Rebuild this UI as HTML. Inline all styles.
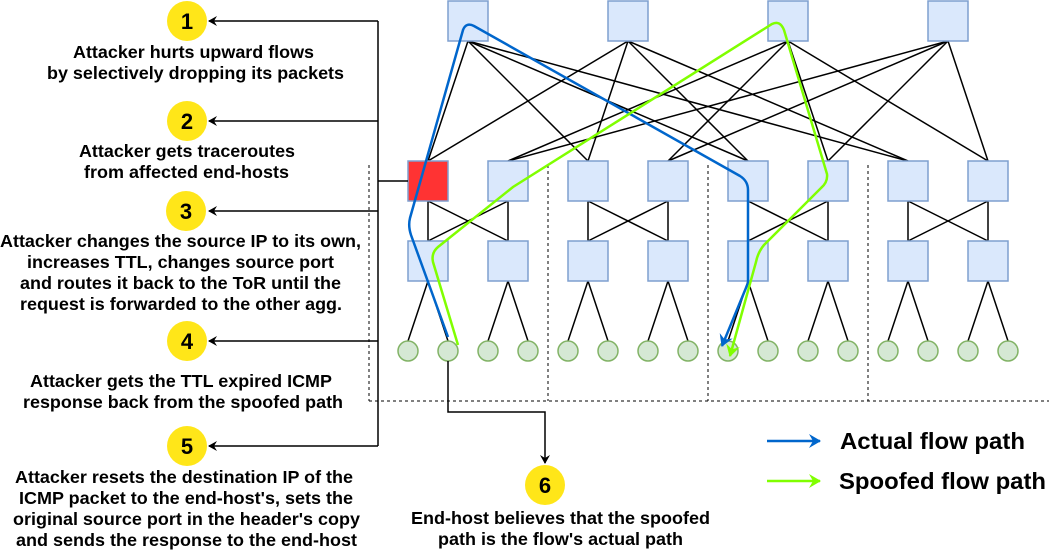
<!DOCTYPE html>
<html><head><meta charset="utf-8"><style>
html,body{margin:0;padding:0;background:#fff;}
svg{display:block;font-family:"Liberation Sans",sans-serif;font-weight:bold;}
</style></head><body>
<svg width="1049" height="550" viewBox="0 0 1049 550" xmlns="http://www.w3.org/2000/svg">
<defs>
<marker id="ak" markerWidth="10" markerHeight="10" refX="8" refY="5" orient="auto" markerUnits="userSpaceOnUse"><path d="M0,0 L9,5 L0,10 L3,5 Z" fill="#000"/></marker>
<marker id="ab" markerWidth="14" markerHeight="14" refX="11" refY="7" orient="auto" markerUnits="userSpaceOnUse"><path d="M0,0 L12,7 L0,14 L4,7 Z" fill="#0066cc"/></marker>
<marker id="ag" markerWidth="14" markerHeight="14" refX="11" refY="7" orient="auto" markerUnits="userSpaceOnUse"><path d="M0,0 L12,7 L0,14 L4,7 Z" fill="#80ff00"/></marker>
</defs>
<g stroke="#000" stroke-width="1" stroke-dasharray="3,3" fill="none">
<line x1="369" y1="165" x2="369" y2="401"/>
<line x1="548" y1="165" x2="548" y2="401"/>
<line x1="708" y1="165" x2="708" y2="401"/>
<line x1="868" y1="165" x2="868" y2="401"/>
<line x1="369" y1="401" x2="1049" y2="401"/>
</g>
<g stroke="#000" stroke-width="1.5">
<line x1="468" y1="41" x2="428" y2="161"/><line x1="468" y1="41" x2="588" y2="161"/><line x1="468" y1="41" x2="748" y2="161"/><line x1="468" y1="41" x2="908" y2="161"/>
<line x1="628" y1="41" x2="428" y2="161"/><line x1="628" y1="41" x2="588" y2="161"/><line x1="628" y1="41" x2="748" y2="161"/><line x1="628" y1="41" x2="908" y2="161"/>
<line x1="788" y1="41" x2="508" y2="161"/><line x1="788" y1="41" x2="668" y2="161"/><line x1="788" y1="41" x2="828" y2="161"/><line x1="788" y1="41" x2="988" y2="161"/>
<line x1="948" y1="41" x2="508" y2="161"/><line x1="948" y1="41" x2="668" y2="161"/><line x1="948" y1="41" x2="828" y2="161"/><line x1="948" y1="41" x2="988" y2="161"/>
</g>
<g stroke="#000" stroke-width="1.5">
<line x1="428" y1="201" x2="428" y2="241"/><line x1="508" y1="201" x2="508" y2="241"/><line x1="428" y1="201" x2="508" y2="241"/><line x1="508" y1="201" x2="428" y2="241"/>
<line x1="588" y1="201" x2="588" y2="241"/><line x1="668" y1="201" x2="668" y2="241"/><line x1="588" y1="201" x2="668" y2="241"/><line x1="668" y1="201" x2="588" y2="241"/>
<line x1="748" y1="201" x2="748" y2="241"/><line x1="828" y1="201" x2="828" y2="241"/><line x1="748" y1="201" x2="828" y2="241"/><line x1="828" y1="201" x2="748" y2="241"/>
<line x1="908" y1="201" x2="908" y2="241"/><line x1="988" y1="201" x2="988" y2="241"/><line x1="908" y1="201" x2="988" y2="241"/><line x1="988" y1="201" x2="908" y2="241"/>
<line x1="428" y1="281" x2="408" y2="341"/><line x1="428" y1="281" x2="448" y2="341"/>
<line x1="508" y1="281" x2="488" y2="341"/><line x1="508" y1="281" x2="528" y2="341"/>
<line x1="588" y1="281" x2="568" y2="341"/><line x1="588" y1="281" x2="608" y2="341"/>
<line x1="668" y1="281" x2="648" y2="341"/><line x1="668" y1="281" x2="688" y2="341"/>
<line x1="748" y1="281" x2="728" y2="341"/><line x1="748" y1="281" x2="768" y2="341"/>
<line x1="828" y1="281" x2="808" y2="341"/><line x1="828" y1="281" x2="848" y2="341"/>
<line x1="908" y1="281" x2="888" y2="341"/><line x1="908" y1="281" x2="928" y2="341"/>
<line x1="988" y1="281" x2="968" y2="341"/><line x1="988" y1="281" x2="1008" y2="341"/>
</g>
<g fill="#dae8fc" stroke="#7e9fcf" stroke-width="1.5">
<rect x="448" y="1" width="40" height="40"/><rect x="608" y="1" width="40" height="40"/><rect x="768" y="1" width="40" height="40"/><rect x="928" y="1" width="40" height="40"/>
<rect x="488" y="161" width="40" height="40"/><rect x="568" y="161" width="40" height="40"/><rect x="648" y="161" width="40" height="40"/><rect x="728" y="161" width="40" height="40"/><rect x="808" y="161" width="40" height="40"/><rect x="888" y="161" width="40" height="40"/><rect x="968" y="161" width="40" height="40"/>
<rect x="408" y="241" width="40" height="40"/><rect x="488" y="241" width="40" height="40"/><rect x="568" y="241" width="40" height="40"/><rect x="648" y="241" width="40" height="40"/><rect x="728" y="241" width="40" height="40"/><rect x="808" y="241" width="40" height="40"/><rect x="888" y="241" width="40" height="40"/><rect x="968" y="241" width="40" height="40"/>
</g>
<rect x="408" y="161" width="40" height="40" fill="#ff3333" stroke="#7e9fcf" stroke-width="1.5"/>
<g fill="#d5e8d4" stroke="#82b366" stroke-width="1.5">
<circle cx="408" cy="351" r="10"/><circle cx="448" cy="351" r="10"/><circle cx="488" cy="351" r="10"/><circle cx="528" cy="351" r="10"/><circle cx="568" cy="351" r="10"/><circle cx="608" cy="351" r="10"/><circle cx="648" cy="351" r="10"/><circle cx="688" cy="351" r="10"/><circle cx="728" cy="351" r="10"/><circle cx="768" cy="351" r="10"/><circle cx="808" cy="351" r="10"/><circle cx="848" cy="351" r="10"/><circle cx="888" cy="351" r="10"/><circle cx="928" cy="351" r="10"/><circle cx="968" cy="351" r="10"/><circle cx="1008" cy="351" r="10"/>
</g>
<g stroke="#000" stroke-width="1.5" fill="none">
<line x1="378" y1="21" x2="378" y2="446"/>
<line x1="378" y1="181" x2="408" y2="181"/>
<line x1="378" y1="21" x2="209" y2="21" marker-end="url(#ak)"/>
<line x1="378" y1="121" x2="209" y2="121" marker-end="url(#ak)"/>
<line x1="378" y1="211" x2="209" y2="211" marker-end="url(#ak)"/>
<line x1="378" y1="341" x2="209" y2="341" marker-end="url(#ak)"/>
<line x1="378" y1="446" x2="209" y2="446" marker-end="url(#ak)"/>
<polyline points="448,361 448,412 545,412 545,463" marker-end="url(#ak)"/>
</g>
<path d="M448,337 L411,235 Q408,226 410,218 L463,30 Q466,22 474,26 L740,176 Q748,181 748,190 L748,283 L722,346" fill="none" stroke="#0066cc" stroke-width="2.5" marker-end="url(#ab)"/>
<path d="M458,345 L433,262 Q431,253 438,247 L513,187 L772,24 Q780,20 784,30 L827,174 Q828,182 821,188 L764,245 Q758,252 756,262 L730,356" fill="none" stroke="#80ff00" stroke-width="2.5" marker-end="url(#ag)"/>
<g fill="#ffe619">
<circle cx="187" cy="21" r="20"/><circle cx="187" cy="121" r="20"/><circle cx="186" cy="211" r="20"/><circle cx="187" cy="341" r="20"/><circle cx="187" cy="446" r="20"/><circle cx="545" cy="485" r="20"/>
</g>
<g font-size="22" text-anchor="middle" fill="#000">
<text x="187" y="29">1</text><text x="187" y="129">2</text><text x="186" y="219">3</text><text x="187" y="349">4</text><text x="187" y="454">5</text><text x="545" y="493">6</text>
</g>
<g font-size="17.5" fill="#000" lengthAdjust="spacingAndGlyphs">
<text x="73" y="58" textLength="241" lengthAdjust="spacingAndGlyphs">Attacker hurts upward flows</text>
<text x="47" y="79" textLength="297" lengthAdjust="spacingAndGlyphs">by selectively dropping its packets</text>
<text x="79" y="157" textLength="216" lengthAdjust="spacingAndGlyphs">Attacker gets traceroutes</text>
<text x="84" y="178" textLength="205" lengthAdjust="spacingAndGlyphs">from affected end-hosts</text>
<text x="0" y="247" textLength="361" lengthAdjust="spacingAndGlyphs">Attacker changes the source IP to its own,</text>
<text x="27" y="268" textLength="307" lengthAdjust="spacingAndGlyphs">increases TTL, changes source port</text>
<text x="20" y="289" textLength="321" lengthAdjust="spacingAndGlyphs">and routes it back to the ToR until the</text>
<text x="20" y="310" textLength="322" lengthAdjust="spacingAndGlyphs">request is forwarded to the other agg.</text>
<text x="30" y="387" textLength="302" lengthAdjust="spacingAndGlyphs">Attacker gets the TTL expired ICMP</text>
<text x="23" y="408" textLength="320" lengthAdjust="spacingAndGlyphs">response back from the spoofed path</text>
<text x="15" y="483" textLength="338" lengthAdjust="spacingAndGlyphs">Attacker resets the destination IP of the</text>
<text x="19" y="504" textLength="334" lengthAdjust="spacingAndGlyphs">ICMP packet to the end-host's, sets the</text>
<text x="13" y="525" textLength="347" lengthAdjust="spacingAndGlyphs">original source port in the header's copy</text>
<text x="16" y="546" textLength="341" lengthAdjust="spacingAndGlyphs">and sends the response to the end-host</text>
<text x="411" y="524" textLength="299" lengthAdjust="spacingAndGlyphs">End-host believes that the spoofed</text>
<text x="438" y="545" textLength="245" lengthAdjust="spacingAndGlyphs">path is the flow's actual path</text>
</g>
<line x1="767" y1="441" x2="820" y2="441" stroke="#0066cc" stroke-width="2.5" marker-end="url(#ab)"/>
<line x1="767" y1="481" x2="820" y2="481" stroke="#80ff00" stroke-width="2.5" marker-end="url(#ag)"/>
<text x="840" y="449" font-size="23" fill="#000" textLength="185" lengthAdjust="spacingAndGlyphs">Actual flow path</text>
<text x="839" y="489" font-size="23" fill="#000" textLength="207" lengthAdjust="spacingAndGlyphs">Spoofed flow path</text>
</svg>
</body></html>
